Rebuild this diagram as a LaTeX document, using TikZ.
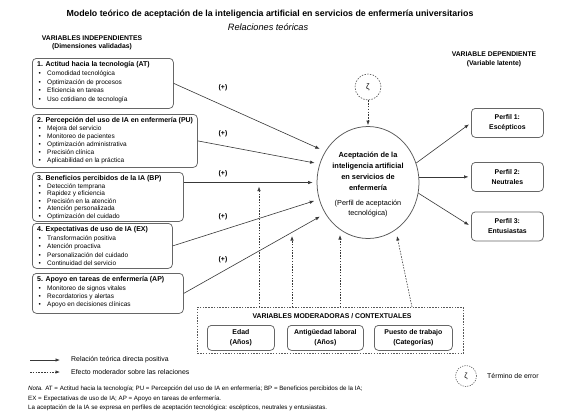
\documentclass[tikz,border=0pt]{standalone}
\usepackage{fontspec}
\setmainfont{Liberation Sans}
\usetikzlibrary{arrows.meta,shapes.geometric,calc}
\begin{document}
\begin{tikzpicture}[x=1pt,y=-1pt,
  ln/.style={draw=black!78, line width=0.6pt},
  arr/.style={ln, -{Latex[length=4.5pt,width=3.4pt]}},
  darr/.style={arr, dash pattern=on 1.5pt off 1.3pt},
  ibox/.style={draw=black!60, line width=0.75pt, rounded corners=4pt, anchor=north west, inner sep=0pt},
  btitle/.style={font=\bfseries\fontsize{7}{8}\selectfont, anchor=west, inner sep=0pt, text height=5pt, text depth=1.4pt},
  bul/.style={font=\fontsize{6.5}{7.5}\selectfont, anchor=west, inner sep=0pt, text height=4.7pt, text depth=1.3pt},
  dot/.style={font=\fontsize{6.5}{7.5}\selectfont, anchor=west, inner sep=0pt, text height=4.7pt, text depth=1.3pt},
  hdr/.style={font=\bfseries\fontsize{6.8}{8.3}\selectfont, align=center, inner sep=0pt},
  plus/.style={font=\bfseries\fontsize{6.9}{8}\selectfont, inner sep=0pt},
  pbox/.style={ibox, minimum width=72pt, minimum height=29pt, align=center,
    font=\bfseries\fontsize{6.9}{10}\selectfont},
  mbox/.style={ibox, minimum width=67pt, minimum height=25pt, align=center,
    font=\bfseries\fontsize{6.9}{10}\selectfont},
  leg/.style={font=\fontsize{6.9}{8}\selectfont, anchor=west, inner sep=0pt},
  nota/.style={font=\fontsize{6.2}{7}\selectfont, anchor=west, inner sep=0pt}
]
\fill[white] (0,0) rectangle (588,416);
\useasboundingbox (0,0) rectangle (588,416);

% Titles
\node[font=\bfseries\fontsize{8.8}{10}\selectfont, inner sep=0pt] (title) at (270,14)
  {Modelo teórico de aceptación de la inteligencia artificial en servicios de enfermería universitarios};
\node[font=\itshape\fontsize{9.2}{10}\selectfont, inner sep=0pt] (sub) at (268,27.5) {Relaciones teóricas};
\node[hdr] (hind) at (92,43) {VARIABLES INDEPENDIENTES\\(Dimensiones validadas)};
\node[hdr] (hdep) at (494,59.5) {VARIABLE DEPENDIENTE\\(Variable latente)};

% Independent boxes
\node[ibox, minimum width=141pt, minimum height=50pt] (b1) at (32,58) {};
\node[btitle] (b1t) at (37,65) {1. Actitud hacia la tecnología (AT)};
\foreach \yy/\tt [count=\i] in {74/Comodidad tecnológica, 82.5/Optimización de procesos, 91/Eficiencia en tareas, 99.5/Uso cotidiano de tecnología}{
  \node[dot] (b1d\i) at (38.5,\yy) {•}; \node[bul] (b1l\i) at (47,\yy) {\tt};}

\node[ibox, minimum width=165pt, minimum height=53pt] (b2) at (32,114) {};
\node[btitle] (b2t) at (37,120.5) {2. Percepción del uso de IA en enfermería (PU)};
\foreach \yy/\tt [count=\i] in {129/Mejora del servicio, 137/Monitoreo de pacientes, 145/Optimización administrativa, 153/Precisión clínica, 161/Aplicabilidad en la práctica}{
  \node[dot] (b2d\i) at (38.5,\yy) {•}; \node[bul] (b2l\i) at (47,\yy) {\tt};}

\node[ibox, minimum width=151pt, minimum height=49pt] (b3) at (32,172) {};
\node[btitle] (b3t) at (37,178.5) {3. Beneficios percibidos de la IA (BP)};
\foreach \yy/\tt [count=\i] in {186.8/Detección temprana, 194.2/Rapidez y eficiencia, 201.6/Precisión en la atención, 209/Atención personalizada, 216.3/Optimización del cuidado}{
  \node[dot] (b3d\i) at (38.5,\yy) {•}; \node[bul] (b3l\i) at (47,\yy) {\tt};}

\node[ibox, minimum width=140pt, minimum height=45pt] (b4) at (32,223) {};
\node[btitle] (b4t) at (37,229.5) {4. Expectativas de uso de IA (EX)};
\foreach \yy/\tt [count=\i] in {239/Transformación positiva, 247.2/Atención proactiva, 255.4/Personalización del cuidado, 263.4/Continuidad del servicio}{
  \node[dot] (b4d\i) at (38.5,\yy) {•}; \node[bul] (b4l\i) at (47,\yy) {\tt};}

\node[ibox, minimum width=151pt, minimum height=40pt] (b5) at (32,273) {};
\node[btitle] (b5t) at (37,279.5) {5. Apoyo en tareas de enfermería (AP)};
\foreach \yy/\tt [count=\i] in {289/Monitoreo de signos vitales, 297/Recordatorios y alertas, 305/Apoyo en decisiones clínicas}{
  \node[dot] (b5d\i) at (38.5,\yy) {•}; \node[bul] (b5l\i) at (47,\yy) {\tt};}

% Central construct
\node[ellipse, draw=black!65, line width=0.75pt, minimum width=102pt, minimum height=112pt, inner sep=0pt] (c) at (368,182.5) {};
\node[font=\bfseries\fontsize{7.4}{11}\selectfont, align=center, inner sep=0pt] (ct) at (368,171.5)
  {Aceptación de la\\inteligencia artificial\\en servicios de\\enfermería};
\node[font=\fontsize{7.3}{9.5}\selectfont, align=center, inner sep=0pt] (cs) at (368,208.5)
  {(Perfil de aceptación\\tecnológica)};

% Error term
\node[circle, draw=black!65, line width=0.6pt, dash pattern=on 1.5pt off 1.3pt, minimum size=26pt, inner sep=0pt,
  font=\fontsize{8}{9}\selectfont] (z) at (368,87) {ζ};
\draw[darr, shorten >=1pt] (z) -- (c.north);

% Paths
\draw[arr, shorten >=6pt] (b1.east) -- (c.144);
\draw[arr, shorten >=5pt] (b2.east) -- (c.159);
\draw[arr, shorten >=4pt] (b3.east |- c.west) -- (c.west);
\draw[arr, shorten >=5pt] (b4.east) -- (c.199);
\draw[arr, shorten >=6pt] (b5.east) -- (c.216);
\node[plus] (pl1) at (223,88) {(+)};
\node[plus] (pl2) at (223,134) {(+)};
\node[plus] (pl3) at (223,174) {(+)};
\node[plus] (pl4) at (223,217) {(+)};
\node[plus] (pl5) at (223,260) {(+)};

% Profiles
\node[pbox] (p1) at (471,108) {Perfil 1:\\Escépticos};
\node[pbox] (p2) at (471,162) {Perfil 2:\\Neutrales};
\node[pbox] (p3) at (471,211.5) {Perfil 3:\\Entusiastas};
\draw[arr, shorten >=2.5pt] (c.22) -- (p1.west);
\draw[arr, shorten >=2.5pt] (c.east |- p2.west) -- (p2.west);
\draw[arr, shorten >=2.5pt] (c.-12) -- (p3.west);

% Moderators
\node[draw=black!65, line width=0.7pt, dash pattern=on 1.5pt off 1.3pt, anchor=north west,
  minimum width=266pt, minimum height=46pt, inner sep=0pt] (mod) at (197,307) {};
\node[font=\bfseries\fontsize{6.9}{8}\selectfont, inner sep=0pt] (modt) at (332,316) {VARIABLES MODERADORAS / CONTEXTUALES};
\node[mbox] (m1) at (207,325) {Edad\\(Años)};
\node[mbox, minimum width=76pt] (m2) at (287,325) {Antigüedad laboral\\(Años)};
\node[mbox, minimum width=78pt] (m3) at (374,325) {Puesto de trabajo\\(Categorías)};

\coordinate (s1) at (259,307); \coordinate (t1) at (259,186.5);
\coordinate (s2) at (292,307); \coordinate (t2) at (292,236);
\coordinate (s3) at (340,307); \coordinate (t3) at (340,235);
\coordinate (s4) at (412,307); \coordinate (t4) at (397,236);
\draw[darr] (s1) -- (t1);
\draw[darr] (s2) -- (t2);
\draw[darr] (s3) -- (t3);
\draw[darr] (s4) -- (t4);

% Legend
\coordinate (la1) at (30,360); \coordinate (lb1) at (60,360);
\coordinate (la2) at (30,372); \coordinate (lb2) at (60,372);
\draw[arr] (la1) -- (lb1);
\draw[darr] (la2) -- (lb2);
\node[leg] (lt1) at (71,360) {Relación teórica directa positiva};
\node[leg] (lt2) at (71,372) {Efecto moderador sobre las relaciones};
\node[circle, draw=black!65, line width=0.6pt, dash pattern=on 1.2pt off 1.2pt, minimum size=21pt, inner sep=0pt,
  font=\fontsize{7.5}{8}\selectfont] (zl) at (466,376) {ζ};
\node[leg] (zlt) at (487,376) {Término de error};

% Note
\node[nota] (n1) at (28,389) {\textit{Nota.} AT = Actitud hacia la tecnología; PU = Percepción del uso de IA en enfermería; BP = Beneficios percibidos de la IA;};
\node[nota] (n2) at (28,398.5) {EX = Expectativas de uso de IA; AP = Apoyo en tareas de enfermería.};
\node[nota] (n3) at (28,408) {La aceptación de la IA se expresa en perfiles de aceptación tecnológica: escépticos, neutrales y entusiastas.};
\end{tikzpicture}
\end{document}
